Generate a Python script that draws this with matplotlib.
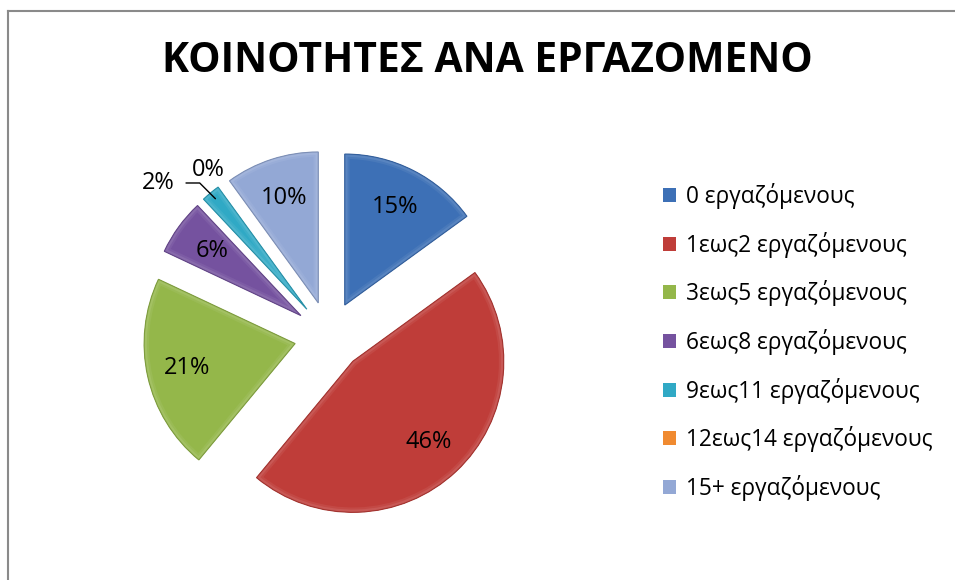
import matplotlib
matplotlib.use('Agg')
import matplotlib.pyplot as plt
from matplotlib.lines import Line2D
from matplotlib.patches import Wedge
import matplotlib.colors as mcolors
import numpy as np

title = 'ΚΟΙΝΟΤΗΤΕΣ ΑΝΑ ΕΡΓΑΖΟΜΕΝΟ'
categories = ['0 εργαζόμενους', '1εως2 εργαζόμενους', '3εως5 εργαζόμενους',
              '6εως8 εργαζόμενους', '9εως11 εργαζόμενους', '12εως14 εργαζόμενους',
              '15+ εργαζόμενους']
values = [15, 46, 21, 6, 2, 0, 10]
colors = ['#3D70B6', '#BF3D39', '#94B74A', '#75529F', '#30A9C5', '#F08A30', '#93A8D5']

plt.rcParams['font.family'] = ['Open Sans', 'DejaVu Sans']

W, H = 955, 580
fig = plt.figure(figsize=(W / 100, H / 100), dpi=100)
fig.patch.set_facecolor('white')

# pie geometry in pixels
cx, cy, R = 329, 336, 151
L = 1.45
half = L * R
ax = fig.add_axes([(cx - half) / W, (H - cy - half) / H, 2 * half / W, 2 * half / H])


def shade(c, f):
    r, g, b = mcolors.to_rgb(c)
    if f < 1:
        return (r * f, g * f, b * f)
    t = f - 1
    return (r + (1 - r) * t, g + (1 - g) * t, b + (1 - b) * t)


wedges, texts, autotexts = ax.pie(
    values, explode=[0.23] * len(values), colors=colors, startangle=90,
    counterclock=False, autopct='%1.0f%%', pctdistance=0.73, radius=1,
    wedgeprops=dict(linewidth=0),
    textprops=dict(fontsize=17, color='black'))

# bevel-like rim: soft light inner band + darker outline
for w, c in zip(wedges, colors):
    if w.theta2 - w.theta1 <= 0:
        continue
    for lw, f in ((7, 1.06), (4, 1.14)):
        band = Wedge(w.center, w.r, w.theta1, w.theta2, facecolor='none',
                     edgecolor=shade(c, f), linewidth=lw, zorder=w.get_zorder() + 0.1)
        ax.add_patch(band)
        band.set_clip_path(w)
    outline = Wedge(w.center, w.r, w.theta1, w.theta2, facecolor='none',
                    edgecolor=shade(c, 0.85), linewidth=0.8, zorder=w.get_zorder() + 0.2)
    ax.add_patch(outline)

ax.set_xlim(-L, L)
ax.set_ylim(-L, L)
ax.set_aspect('equal')
ax.axis('off')


def mid_angle(w):
    return np.deg2rad((w.theta1 + w.theta2) / 2)


# 0% label (index 5): outside along its direction
w5 = wedges[5]
a5 = mid_angle(w5)
autotexts[5].set_position((w5.center[0] + 1.13 * np.cos(a5), w5.center[1] + 1.13 * np.sin(a5)))

# 2% label (index 4): outside, shifted, with leader line
w4 = wedges[4]
a4 = mid_angle(w4)
lab_ang = a4 + np.deg2rad(10)
lx, ly = w4.center[0] + 1.29 * np.cos(lab_ang), w4.center[1] + 1.29 * np.sin(lab_ang)
autotexts[4].set_visible(False)
rim = (w4.center[0] + 0.95 * np.cos(a4), w4.center[1] + 0.95 * np.sin(a4))
ax.annotate(autotexts[4].get_text(), xy=rim, xytext=(lx, ly), fontsize=17,
            ha='center', va='center',
            arrowprops=dict(arrowstyle='-', color='black', lw=1.0,
                            connectionstyle='angle,angleA=0,angleB=135,rad=0',
                            shrinkA=6, shrinkB=0))
for t in autotexts:
    t.set_zorder(5)

# title
fig.text(487 / W, 1 - 62 / H, title, ha='center', va='center',
         fontsize=29.3, fontweight='bold', color='black')

# legend
fig.legend(handles=wedges, labels=categories, loc='upper left',
           bbox_to_anchor=(663 / W, 1 - 183 / H), frameon=False, fontsize=16.3,
           handlelength=0.58, handleheight=0.58, handletextpad=0.42,
           labelspacing=1.0, borderpad=0, borderaxespad=0)

# chart-area frame (left and top edges visible)
fig.add_artist(Line2D([7.5 / W, 7.5 / W], [0, 1 - 10.5 / H], transform=fig.transFigure,
                      color='#8a8a8a', lw=1.5))
fig.add_artist(Line2D([7.5 / W, 1], [1 - 10.5 / H, 1 - 10.5 / H], transform=fig.transFigure,
                      color='#8a8a8a', lw=1.5))

fig.savefig('out.png', dpi=100, facecolor='white')
